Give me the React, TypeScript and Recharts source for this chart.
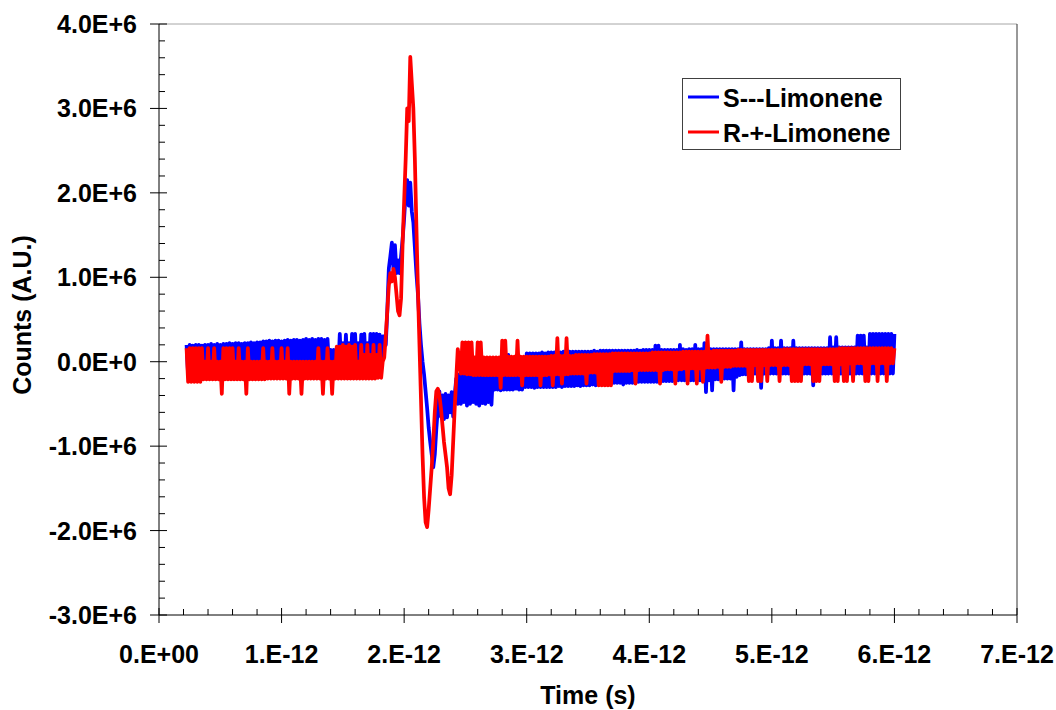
import React from 'react';
import { LineChart, Line, XAxis, YAxis, ReferenceLine, Legend } from 'recharts';

// sampling grid of the measurement (time in ps)
const T0_PS = 0.225;
const DT_PS = 0.0125;
// counts are stored in units of 1E+4

const S_LEFT = [
  20,-16,20,-16,19,-15,20,-8,20,-8,
  19,-8,20,-8,20,-8,21,-8,20,-8,
  21,-8,20,-8,21,-8,21,-8,22,-8,
  21,-8,22,-8,22,-8,21,-8,22,-8,
  22,-8,23,-8,22,-8,23,-8,23,-8,
  24,-8,24,-8,25,-8,24,-8,25,-8,
  25,-8,24,-8,25,-8,26,-8,25,-8,
  26,-8,26,-8,25,-8,26,-8,27,-8,
  26,-8,27,-8,26,-8,27,-8,27,-8,
  26,-8,27,-8,14,-8,14,-8,14,-8,
  33,-8,22,-8,32,-8,22,-8,33,-8,
  33,-8,22,-8,32,-8,33,-8,22,-8,
  33,-8,33,-8,33,-8,32,-8,30,
];
const S_PEAK = [
  30,20,60,110,125,141,110,138,105,120,
  105,125,145,170,200,215,185,212,178,165,
  135,105,80,45,20,0,-15,-35,-55,-78,
  -95,-110,-125,-110,-80,-55,-35,-65,-40,-68,
  -38,-66,-40,-60,-36,-65,-40,-20,-50,-15,
];
const S_RIGHT = [
  -50,-12,-48,-12,-52,-14,-50,-12,-48,-12,
  -50,-12,-52,-14,-49,-12,-50,-12,-48,-12,
  -51,-12,-33,-12,-33,-10,-34,-12,-33,-5,
  -33,8,-33,-8,-33,-12,-32,-10,-33,-8,
  -33,-5,-30,10,-30,10,-30,10,-31,10,
  -30,10,-30,11,-30,10,-30,11,-30,11,
  -30,11,-30,11,-29,11,-30,12,-29,11,
  -29,12,-29,12,-29,12,-28,12,-29,12,
  -28,12,-28,12,-28,12,-27,13,-28,12,
  -27,13,-26,13,-26,13,-26,13,-26,13,
  -25,13,-25,13,-25,13,-27,13,-25,13,
  -25,13,-25,13,-25,14,-24,13,-24,14,
  -24,14,-24,14,-24,14,-24,19,-24,19,
  -24,14,-23,14,-23,14,-23,14,-23,14,
  -23,14,-22,20,-22,15,-22,14,-22,15,
  -22,15,-22,20,-22,15,-22,15,-22,22,
  -36,15,-22,15,-34,15,-21,15,-21,15,
  -21,15,-20,15,-20,15,-20,15,-34,15,
  -18,15,-16,23,-15,15,-15,15,-14,15,
  -14,15,-14,15,-14,15,-31,15,-14,15,
  -14,16,-14,25,-14,16,-14,16,-14,25,
  -14,16,-14,16,-14,16,-14,25,-14,16,
  -14,16,-14,16,-14,16,-14,16,-14,16,
  -28,16,-14,16,-14,16,-14,16,-14,16,
  -14,29,-14,17,-14,29,-14,17,-14,17,
  -14,17,-14,17,-14,17,-14,17,-14,31,
  -14,31,-14,31,-14,17,-14,33,-14,33,
  -14,33,-14,33,-14,33,-14,33,-14,33,
  -14,33,-14,33,
];

const R_LEFT = [
  16,-24,16,-24,16,-24,16,-24,16,-24,
  16,-21,0,-21,16,-21,0,-21,16,-21,
  0,-21,0,-38,16,-21,16,-21,16,-21,
  16,-21,0,-21,16,-21,0,-21,0,-38,
  16,-21,0,-21,0,-21,0,-21,0,-21,
  16,-21,0,-20,0,-20,16,-20,0,-20,
  0,-20,16,-20,0,-20,16,-38,0,-20,
  0,-20,0,-20,0,-38,0,-20,0,-20,
  0,-20,0,-20,0,-20,16,-20,0,-38,
  0,-20,16,-20,0,-38,0,-20,18,-20,
  18,-20,20,-20,18,-20,20,-20,18,-20,
  20,-20,0,-20,20,-20,8,-20,20,-20,
  8,-20,20,-20,8,-19,20,-19,0,
];
const R_PEAK = [
  5,30,60,90,105,95,110,100,80,60,
  55,75,140,190,240,300,285,361,330,300,
  240,160,85,20,-45,-110,-160,-190,-196,-175,
  -150,-125,-95,-60,-35,-32,-40,-55,-75,-95,
  -110,-125,-150,-157,-135,-95,-55,-20,15,2,
];
const R_RIGHT = [
  -14,23,-14,23,-15,23,-15,23,-16,5,
  -16,23,-16,23,-16,5,-16,5,-16,5,
  -16,5,-16,5,-16,5,-31,25,-16,25,
  -16,6,-16,6,-16,6,-16,25,-16,6,
  -28,6,-16,6,-16,6,-16,6,-16,6,
  -16,6,-28,6,-16,6,-16,6,-15,7,
  -28,7,-15,28,-15,7,-26,7,-15,28,
  -15,7,-14,7,-14,8,-14,8,-14,8,
  -14,8,-26,8,-13,8,-13,9,-13,9,
  -28,9,-28,9,-28,9,-28,9,-28,10,
  -11,10,-11,10,-11,10,-11,10,-11,10,
  -11,10,-10,10,-26,10,-10,10,-10,10,
  -10,10,-10,10,-10,11,-10,11,-10,11,
  -26,11,-10,11,-9,11,-9,11,-9,11,
  -26,11,-9,11,-9,12,-8,12,-26,12,
  -8,12,-8,12,-26,12,-8,12,-24,12,
  -7,31,-7,12,-7,13,-7,13,-6,13,
  -24,13,-6,13,-6,13,-6,13,-5,13,
  -5,14,-5,14,-5,14,-5,14,-23,14,
  -23,14,-4,14,-23,14,-23,14,-4,14,
  -23,14,-4,14,-4,14,-4,14,-23,14,
  -4,15,-4,15,-4,15,-23,15,-23,15,
  -23,15,-23,15,-3,15,-3,15,-3,15,
  -23,15,-23,15,-23,15,-3,15,-3,15,
  -3,15,-3,15,-23,15,-23,16,-3,16,
  -23,16,-23,16,-2,16,-23,16,-2,16,
  -2,16,-2,16,-23,16,-23,16,-2,16,
  -2,16,-23,16,-2,16,-2,16,-23,16,
  -2,16,-2,16,
];

const S_COUNTS = [...S_LEFT, ...S_PEAK, ...S_RIGHT];
const R_COUNTS = [...R_LEFT, ...R_PEAK, ...R_RIGHT];

const SERIES_S = 'S---Limonene';
const SERIES_R = 'R-+-Limonene';
const LEGEND_ORDER = ['s', 'r'];

const X_TICKS = [
  0, 0.2, 0.4, 0.6, 0.8, 1, 1.2, 1.4, 1.6, 1.8, 2, 2.2, 2.4, 2.6, 2.8, 3, 3.2, 3.4,
  3.6, 3.8, 4, 4.2, 4.4, 4.6, 4.8, 5, 5.2, 5.4, 5.6, 5.8, 6, 6.2, 6.4, 6.6, 6.8, 7,
];
const X_LABELS = ['0.E+00', '1.E-12', '2.E-12', '3.E-12', '4.E-12', '5.E-12', '6.E-12', '7.E-12'];
const Y_TICKS = [
  -300, -280, -260, -240, -220, -200, -180, -160, -140, -120, -100, -80, -60, -40, -20,
  0, 20, 40, 60, 80, 100, 120, 140, 160, 180, 200, 220, 240, 260, 280, 300, 320, 340, 360, 380, 400,
];
const Y_LABELS = ['-3.0E+6', '-2.0E+6', '-1.0E+6', '0.0E+0', '1.0E+6', '2.0E+6', '3.0E+6', '4.0E+6'];

const data = S_COUNTS.map((s, i) => ({ t: T0_PS + DT_PS * i, s, r: R_COUNTS[i] }));

const FONT = "'Liberation Sans', Arial, Helvetica, sans-serif";
const textStyle = { fontFamily: FONT, fontWeight: 700, fontSize: 25, fill: '#000' } as const;

const XTick = (props: any) => {
  const { x, y, payload } = props;
  const v = payload.value as number;
  const k = Math.round(v);
  const major = Math.abs(v - k) < 1e-6;
  return (
    <g>
      {major ? (
        <line x1={x} x2={x} y1={y - 7} y2={y + 8} stroke="#000" strokeWidth={1} />
      ) : (
        <line x1={x} x2={x} y1={y - 6} y2={y} stroke="#000" strokeWidth={1} />
      )}
      {major && (
        <text x={x} y={y + 48} textAnchor="middle" style={textStyle}>
          {X_LABELS[k]}
        </text>
      )}
    </g>
  );
};

const YTick = (props: any) => {
  const { x, y, payload } = props;
  const v = payload.value as number;
  const major = v % 100 === 0;
  const k = Math.round(v / 100) + 3;
  return (
    <g>
      {major ? (
        <line x1={x - 9} x2={x + 8} y1={y} y2={y} stroke="#000" strokeWidth={1} />
      ) : (
        <line x1={x} x2={x + 6} y1={y} y2={y} stroke="#000" strokeWidth={1} />
      )}
      {major && (
        <text x={x - 22} y={y + 9} textAnchor="end" style={textStyle}>
          {Y_LABELS[k]}
        </text>
      )}
    </g>
  );
};

const LegendBox = (props: any) => {
  const payload = [...(props.payload || [])].sort(
    (a: any, b: any) => LEGEND_ORDER.indexOf(a.dataKey) - LEGEND_ORDER.indexOf(b.dataKey)
  );
  return (
    <svg width={219} height={72} style={{ display: 'block' }}>
      <rect x={0.5} y={0.5} width={218} height={71} fill="#fff" stroke="#404040" strokeWidth={1} />
      {payload.map((p: any, i: number) => (
        <g key={i}>
          <line x1={6} x2={37} y1={19 + i * 35} y2={19 + i * 35} stroke={p.color} strokeWidth={3} />
          <text x={41} y={29 + i * 35} style={textStyle}>
            {p.value}
          </text>
        </g>
      ))}
    </svg>
  );
};

export default function App() {
  return (
    <div style={{ position: 'absolute', left: 0, top: 0, width: 1056, height: 710, background: '#fff' }}>
      <LineChart width={1056} height={710} data={data} margin={{ top: 24, right: 39, bottom: 0, left: 0 }}>
        <XAxis
          dataKey="t"
          type="number"
          domain={[0, 7]}
          ticks={X_TICKS}
          interval={0}
          tickSize={0}
          tickMargin={0}
          tickLine={false}
          tick={<XTick />}
          axisLine={{ stroke: '#000', strokeWidth: 1 }}
          height={95}
          label={{
            content: () => (
              <text x={588} y={704} textAnchor="middle" style={textStyle}>
                Time (s)
              </text>
            ),
          }}
        />
        <YAxis
          type="number"
          domain={[-300, 400]}
          ticks={Y_TICKS}
          interval={0}
          tickSize={0}
          tickMargin={0}
          tickLine={false}
          tick={<YTick />}
          axisLine={{ stroke: '#000', strokeWidth: 1 }}
          width={159}
          label={{
            content: () => (
              <text x={31} y={315} textAnchor="middle" transform="rotate(-90, 31, 315)" style={textStyle}>
                Counts (A.U.)
              </text>
            ),
          }}
        />
        <ReferenceLine y={400} stroke="#a6a6a6" strokeWidth={1} />
        <ReferenceLine x={7} stroke="#333" strokeWidth={1} />
        <Line
          type="linear"
          dataKey="s"
          name={SERIES_S}
          stroke="#0000FF"
          strokeWidth={3.75}
          strokeLinejoin="round"
          dot={false}
          activeDot={false}
          isAnimationActive={false}
        />
        <Line
          type="linear"
          dataKey="r"
          name={SERIES_R}
          stroke="#FF0000"
          strokeWidth={3.75}
          strokeLinejoin="round"
          dot={false}
          activeDot={false}
          isAnimationActive={false}
        />
        <Legend
          layout="vertical"
          align="center"
          verticalAlign="middle"
          content={<LegendBox />}
          wrapperStyle={{ position: 'absolute', left: 682, top: 78, width: 219, height: 72 }}
        />
      </LineChart>
    </div>
  );
}
